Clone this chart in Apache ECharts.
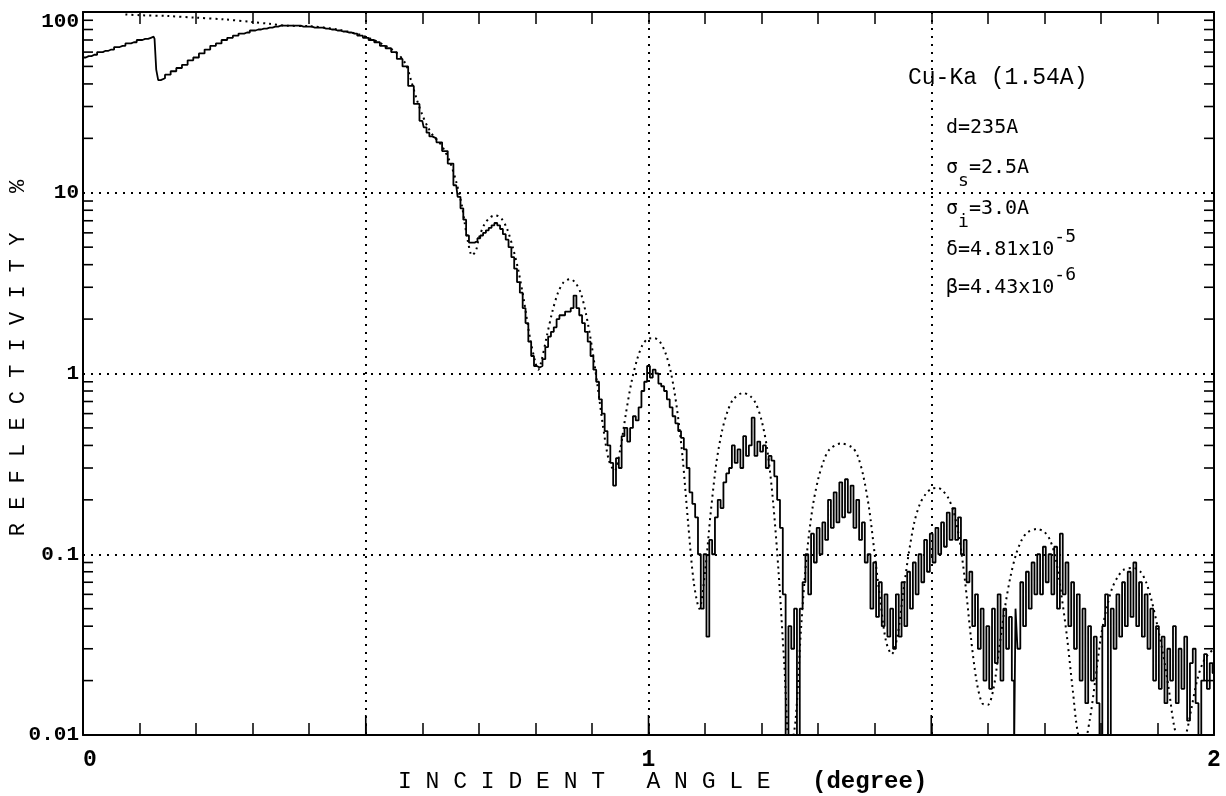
<!DOCTYPE html>
<html><head><meta charset="utf-8">
<script src="https://cdn.jsdelivr.net/npm/echarts@6/dist/echarts.min.js"></script>
<style>html,body{margin:0;padding:0;background:#fff}#c{width:1226px;height:796px}</style>
</head><body><div id="c"></div>
<script>
// ---- data ----
const yTickLabels = ['0.01', '0.1', '1', '10', '100'];
const xTickLabels = ['0', '1', '2'];
const xTitle = 'I N C I D E N T   A N G L E   ';
const xUnit = '(degree)';
const yTitle = 'R E F L E C T I V I T Y   %';
const sourceLabel = 'Cu-Ka (1.54A)';

// measured reflectivity [angle (deg), reflectivity (%)]
const measured = [
[0,56],[0.01,57],[0.02,58],[0.03,60],[0.04,61],[0.05,62],[0.06,64],[0.07,65],[0.08,67],[0.09,68],[0.1,70],[0.11,71],[0.12,72],[0.125,73],[0.128,71],[0.131,48],[0.135,42],[0.14,43],[0.15,45],[0.16,47],[0.17,49],[0.18,51],[0.19,54],[0.2,56],[0.21,59],[0.22,62],[0.23,65],[0.24,67],[0.25,70],[0.26,72],[0.27,74],[0.28,76],[0.29,77],[0.3,79],[0.31,80],[0.32,81],[0.33,82],[0.34,83],[0.35,84],[0.36,84],[0.37,84],[0.38,84],[0.39,83],[0.4,83],[0.41,82],[0.42,82],[0.43,81],[0.44,80],[0.45,79],[0.46,78],[0.47,77],[0.48,76],[0.49,74],[0.5,72],[0.51,70],[0.52,68],[0.53,65],[0.54,63],[0.55,60],[0.56,55],[0.57,50],[0.58,39],[0.59,31],[0.6,25],[0.605,23],[0.61,21.5],[0.615,20.5],[0.62,20],[0.63,19],[0.64,17],[0.65,14.5],[0.66,11],[0.665,9.5],[0.67,8.2],[0.675,7.1],[0.68,5.8],[0.685,5.3],[0.69,5.3],[0.695,5.4],[0.7,5.6],[0.705,5.8],[0.71,6.0],[0.715,6.2],[0.72,6.4],[0.725,6.6],[0.73,6.8],[0.735,6.6],[0.74,6.3],[0.745,5.9],[0.75,5.5],[0.755,5.0],[0.76,4.4],[0.765,3.8],[0.77,3.2],[0.775,2.8],[0.78,2.3],[0.785,1.9],[0.79,1.5],[0.795,1.25],[0.8,1.1],[0.805,1.08],[0.81,1.1],[0.815,1.2],[0.82,1.4],[0.825,1.6],[0.83,1.7],[0.835,1.8],[0.84,2.0],[0.845,2.1],[0.85,2.1],[0.855,2.2],[0.86,2.2],[0.865,2.3],[0.87,2.7],[0.875,2.3],[0.88,2.1],[0.885,1.9],[0.89,1.7],[0.895,1.5],[0.9,1.25],[0.905,1.05],[0.91,0.9],[0.915,0.72],[0.92,0.6],[0.925,0.48],[0.93,0.4],[0.935,0.32],[0.94,0.24],[0.945,0.34],[0.95,0.3],[0.955,0.45],[0.96,0.5],[0.965,0.42],[0.97,0.5],[0.975,0.58],[0.98,0.55],[0.985,0.65],[0.99,0.8],[0.995,0.9],[1.0,1.1],[1.005,0.95],[1.01,1.05],[1.015,1.0],[1.02,0.88],[1.025,0.85],[1.03,0.8],[1.035,0.72],[1.04,0.65],[1.045,0.58],[1.05,0.53],[1.055,0.48],[1.06,0.44],[1.065,0.38],[1.07,0.3],[1.075,0.22],[1.08,0.19],[1.085,0.16],[1.09,0.1],[1.095,0.05],[1.1,0.1],[1.105,0.035],[1.11,0.12],[1.115,0.1],[1.12,0.16],[1.125,0.2],[1.13,0.18],[1.135,0.25],[1.14,0.28],[1.145,0.3],[1.15,0.4],[1.155,0.32],[1.16,0.38],[1.165,0.3],[1.17,0.45],[1.175,0.35],[1.18,0.4],[1.185,0.57],[1.19,0.35],[1.195,0.42],[1.2,0.37],[1.205,0.4],[1.21,0.3],[1.215,0.35],[1.22,0.33],[1.225,0.27],[1.23,0.2],[1.235,0.14],[1.24,0.06],[1.245,0.008],[1.25,0.04],[1.255,0.03],[1.26,0.05],[1.265,0.008],[1.27,0.05],[1.275,0.07],
[1.28,0.1],[1.285,0.06],[1.29,0.13],[1.295,0.09],[1.3,0.14],[1.305,0.1],[1.31,0.15],[1.315,0.12],[1.32,0.2],[1.325,0.14],[1.33,0.22],[1.335,0.15],[1.34,0.25],[1.345,0.16],[1.35,0.26],[1.355,0.17],[1.36,0.24],[1.365,0.14],[1.37,0.2],[1.375,0.12],[1.38,0.15],[1.385,0.09],[1.39,0.1],[1.395,0.05],[1.4,0.09],[1.405,0.045],[1.41,0.07],[1.415,0.04],[1.42,0.06],[1.425,0.035],[1.43,0.05],[1.435,0.03],[1.44,0.06],[1.445,0.035],[1.45,0.07],[1.455,0.04],[1.46,0.08],[1.465,0.05],[1.47,0.09],[1.475,0.06],[1.48,0.1],[1.485,0.07],[1.49,0.12],[1.495,0.08],[1.5,0.13],[1.505,0.09],[1.51,0.14],[1.515,0.1],[1.52,0.15],[1.525,0.11],[1.53,0.17],[1.535,0.12],[1.54,0.18],[1.545,0.12],[1.55,0.16],[1.555,0.1],[1.56,0.12],[1.565,0.07],[1.57,0.08],[1.575,0.04],[1.58,0.06],[1.585,0.03],[1.59,0.05],[1.595,0.02],[1.6,0.04],[1.605,0.018],[1.61,0.05],[1.615,0.025],[1.62,0.06],[1.625,0.02],[1.63,0.05],[1.635,0.03],[1.64,0.045],[1.645,0.02],[1.648,0.008],[1.65,0.05],[1.655,0.03],[1.66,0.07],[1.665,0.04],[1.67,0.08],[1.675,0.05],[1.68,0.09],[1.685,0.06],[1.69,0.1],[1.695,0.06],[1.7,0.11],[1.705,0.07],[1.71,0.1],[1.715,0.06],[1.72,0.11],[1.725,0.05],[1.73,0.13],[1.735,0.06],[1.74,0.09],[1.745,0.04],[1.75,0.07],[1.755,0.03],[1.76,0.06],[1.765,0.02],[1.77,0.05],[1.775,0.015],[1.78,0.04],[1.785,0.02],[1.79,0.035],[1.795,0.015],[1.8,0.008],[1.805,0.04],[1.81,0.06],[1.815,0.008],[1.82,0.05],[1.825,0.03],[1.83,0.06],[1.835,0.035],[1.84,0.07],[1.845,0.04],[1.85,0.08],[1.855,0.045],[1.86,0.09],[1.865,0.04],[1.87,0.07],[1.875,0.035],[1.88,0.06],[1.885,0.03],[1.89,0.05],[1.895,0.02],[1.9,0.04],[1.905,0.018],[1.91,0.035],[1.915,0.015],[1.92,0.03],[1.925,0.02],[1.93,0.04],[1.935,0.015],[1.94,0.03],[1.945,0.018],[1.95,0.035],[1.955,0.012],[1.96,0.025],[1.965,0.03],[1.97,0.015],[1.975,0.01],[1.98,0.02],[1.985,0.028],[1.99,0.018],[1.995,0.025],[2.0,0.022]
];

// calculated reflectivity [angle (deg), reflectivity (%)]
const calculated = [
[0.075,97],[0.1,96],[0.15,95],[0.2,93],[0.25,91],[0.3,88],[0.33,86],[0.36,84],[0.4,83.5],[0.45,80],[0.5,73],[0.55,61],[0.57,52],[0.58,42],[0.59,33],[0.6,27],[0.61,23],[0.62,20.5],[0.63,19],[0.64,17],[0.65,14.5],[0.66,11.5],[0.67,8.5],[0.675,6.8],[0.68,5.5],[0.688,4.5],[0.695,4.8],[0.7,5.6],[0.71,6.7],[0.72,7.3],[0.729,7.5],[0.74,7.2],[0.75,6.3],[0.76,5.0],[0.77,3.7],[0.78,2.5],[0.79,1.6],[0.8,1.15],[0.805,1.05],[0.81,1.15],[0.82,1.6],[0.83,2.2],[0.84,2.8],[0.85,3.2],[0.861,3.33],[0.87,3.2],[0.88,2.8],[0.89,2.1],[0.9,1.4],[0.91,0.85],[0.92,0.5],[0.93,0.33],[0.94,0.29],[0.95,0.38],[0.96,0.6],[0.97,0.9],[0.98,1.2],[0.99,1.45],[1.0,1.56],[1.01,1.57],[1.02,1.5],[1.03,1.3],[1.04,1.0],[1.05,0.65],[1.06,0.35],[1.07,0.15],[1.08,0.07],[1.09,0.05],[1.1,0.08],[1.11,0.17],[1.12,0.32],[1.13,0.48],[1.14,0.62],[1.15,0.72],[1.167,0.78],[1.18,0.75],[1.19,0.68],[1.2,0.55],[1.21,0.38],[1.22,0.2],[1.23,0.08],[1.24,0.025],[1.25,0.008],[1.26,0.012],[1.27,0.04],[1.28,0.1],[1.29,0.18],[1.3,0.26],[1.31,0.33],[1.32,0.38],[1.34,0.41],[1.36,0.39],[1.37,0.35],[1.38,0.27],[1.39,0.18],[1.4,0.1],[1.41,0.055],[1.42,0.033],[1.43,0.028],[1.44,0.035],[1.45,0.06],[1.46,0.1],[1.47,0.15],[1.48,0.19],[1.49,0.215],[1.5,0.23],[1.512,0.233],[1.52,0.225],[1.53,0.205],[1.54,0.17],[1.55,0.12],[1.56,0.07],[1.57,0.035],[1.58,0.02],[1.59,0.015],[1.6,0.0147],[1.61,0.018],[1.62,0.03],[1.63,0.05],[1.64,0.075],[1.65,0.1],[1.66,0.12],[1.67,0.132],[1.687,0.138],[1.7,0.133],[1.71,0.12],[1.72,0.095],[1.73,0.06],[1.74,0.035],[1.75,0.018],[1.76,0.01],[1.77,0.009],[1.78,0.012],[1.79,0.02],[1.8,0.035],[1.81,0.05],[1.82,0.065],[1.83,0.075],[1.84,0.082],[1.857,0.084],[1.87,0.08],[1.88,0.07],[1.89,0.055],[1.9,0.04],[1.91,0.028],[1.92,0.018],[1.93,0.011],[1.94,0.009],[1.95,0.01],[1.96,0.014],[1.97,0.02],[1.98,0.025],[1.99,0.028],[2.0,0.03]
];

// ---- chart ----
const MONO = '"Liberation Mono", "Courier New", monospace';
const SANSMONO = '"DejaVu Sans Mono", monospace';
const INK = '#000';

const decades = [0.01, 0.1, 1, 10];
const minorTicks = [];
decades.forEach(d => { for (let m = 2; m <= 9; m++) minorTicks.push([0, m * d]); });
const halfTicks = [[0.5, 0.01], [1, 0.01], [1.5, 0.01]];

const chart = echarts.init(document.getElementById('c'), null, { renderer: 'canvas' });

const dotted = { color: INK, width: 2, type: [2, 6] };
const axisLine = { show: true, onZero: false, lineStyle: { color: INK, width: 2 } };
const subRich = {
  n: { font: '20px ' + SANSMONO, fill: INK },
  s: { font: '18px ' + SANSMONO, fill: INK, padding: [26, 0, 0, 0] },
  p: { font: '18px ' + SANSMONO, fill: INK, padding: [0, 0, 26, 0] }
};

const option = {
  animation: false,
  backgroundColor: '#fff',
  grid: { left: 83, right: 12, top: 12, bottom: 61, containLabel: false },
  xAxis: [
    { type: 'value', min: 0, max: 2, interval: 0.1, position: 'bottom',
      axisLine: axisLine,
      axisTick: { show: true, inside: true, length: 12, lineStyle: { color: INK, width: 1.5 } },
      axisLabel: { show: true, margin: 14, color: INK, fontFamily: MONO, fontSize: 23, fontWeight: 'bold',
        formatter: v => {
          const r = Math.round(v);
          if (Math.abs(v - r) > 1e-6) return '';
          return r === 0 ? '{z|' + xTickLabels[r] + '}' : xTickLabels[r];
        },
        rich: { z: { fontFamily: MONO, fontSize: 23, fontWeight: 'bold', color: INK, padding: [0, 0, 0, 14] } } },
      splitLine: { show: false } },
    { type: 'value', min: 0, max: 2, interval: 0.1, position: 'top',
      axisLine: axisLine,
      axisTick: { show: true, inside: true, length: 12, lineStyle: { color: INK, width: 1.5 } },
      axisLabel: { show: false }, splitLine: { show: false } },
    { type: 'value', min: 0, max: 2, interval: 0.5, position: 'bottom',
      axisLine: { show: false }, axisTick: { show: false }, axisLabel: { show: false },
      splitLine: { show: true, lineStyle: dotted } }
  ],
  yAxis: [
    { type: 'log', logBase: 10, min: 0.01, max: 100, position: 'left',
      axisLine: axisLine, axisTick: { show: false },
      axisLabel: { color: INK, fontFamily: MONO, fontSize: 21, fontWeight: 'bold', margin: 4,
        formatter: v => {
          const i = Math.round(Math.log10(v)) + 2;
          return i === 4 ? '{t|' + yTickLabels[i] + '}' : yTickLabels[i];
        },
        rich: { t: { fontFamily: MONO, fontSize: 21, fontWeight: 'bold', color: INK, padding: [20, 0, 0, 0] } } },
      splitLine: { show: true, lineStyle: dotted } },
    { type: 'log', logBase: 10, min: 0.01, max: 100, position: 'right',
      axisLine: axisLine, axisTick: { show: false }, axisLabel: { show: false }, splitLine: { show: false } }
  ],
  series: [
    { name: 'calculated', type: 'line', xAxisIndex: 0, yAxisIndex: 0, data: calculated,
      showSymbol: false, smooth: 0.3, clip: true, z: 3,
      lineStyle: { color: INK, width: 2, type: [2, 4] } },
    { name: 'measured', type: 'line', xAxisIndex: 0, yAxisIndex: 0, data: measured,
      showSymbol: false, step: 'middle', clip: true, z: 4,
      lineStyle: { color: INK, width: 1.8 } },
    { name: 'minorTicksY', type: 'custom', xAxisIndex: 0, yAxisIndex: 0, data: minorTicks, z: 5, silent: true,
      renderItem: (params, api) => {
        const v = api.value(1);
        const l = api.coord([0, v]), r = api.coord([2, v]);
        return { type: 'group', children: [
          { type: 'line', shape: { x1: l[0], y1: l[1], x2: l[0] + 10, y2: l[1] }, style: { stroke: INK, lineWidth: 1.6 } },
          { type: 'line', shape: { x1: r[0] - 10, y1: r[1], x2: r[0], y2: r[1] }, style: { stroke: INK, lineWidth: 1.6 } }
        ] };
      } },
    { name: 'halfTicksX', type: 'custom', xAxisIndex: 0, yAxisIndex: 0, data: halfTicks, z: 5, silent: true,
      renderItem: (params, api) => {
        const p = api.coord([api.value(0), api.value(1)]);
        return { type: 'line', shape: { x1: p[0], y1: p[1], x2: p[0], y2: p[1] - 20 }, style: { stroke: INK, lineWidth: 1.6 } };
      } }
  ],
  graphic: [
    { type: 'text', x: 398, y: 782, silent: true,
      style: { text: '{a|' + xTitle + '}{b|' + xUnit + '}', verticalAlign: 'middle', align: 'left',
        rich: { a: { font: '23px ' + MONO, fill: INK }, b: { font: 'bold 24px ' + MONO, fill: INK } } } },
    { type: 'text', x: 18, y: 358, rotation: Math.PI / 2, silent: true,
      style: { text: yTitle, font: '22px ' + MONO, fill: INK, align: 'center', verticalAlign: 'middle' } },
    { type: 'text', x: 908, y: 78, silent: true,
      style: { text: sourceLabel, font: '23px ' + MONO, fill: INK, align: 'left', verticalAlign: 'middle' } },
    { type: 'text', x: 946, y: 128, silent: true,
      style: { text: 'd=235A', font: '20px ' + SANSMONO, fill: INK, align: 'left', verticalAlign: 'middle' } },
    { type: 'text', x: 946, y: 168, silent: true,
      style: { text: '{n|σ}{s|s}{n|=2.5A}', align: 'left', verticalAlign: 'middle', rich: subRich } },
    { type: 'text', x: 946, y: 209, silent: true,
      style: { text: '{n|σ}{s|i}{n|=3.0A}', align: 'left', verticalAlign: 'middle', rich: subRich } },
    { type: 'text', x: 946, y: 250, silent: true,
      style: { text: '{n|δ=4.81x10}{p|-5}', align: 'left', verticalAlign: 'middle', rich: subRich } },
    { type: 'text', x: 946, y: 288, silent: true,
      style: { text: '{n|β=4.43x10}{p|-6}', align: 'left', verticalAlign: 'middle', rich: subRich } }
  ]
};
chart.setOption(option);
</script></body></html>
